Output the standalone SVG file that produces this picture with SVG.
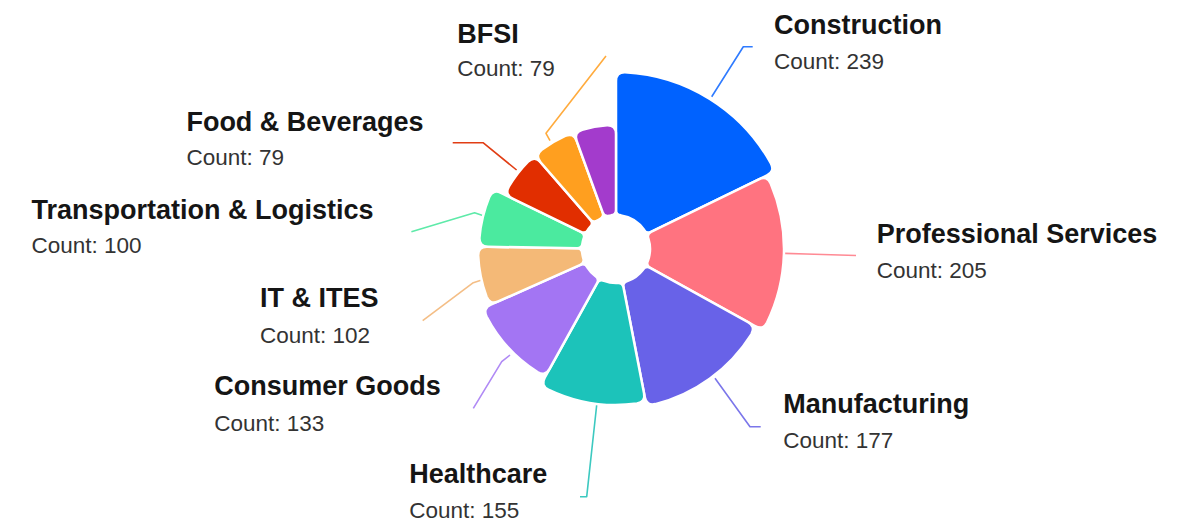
<svg xmlns="http://www.w3.org/2000/svg" width="1185" height="522" viewBox="0 0 1185 522">
<style>
.sec{stroke:#fff;stroke-width:2.5;stroke-linejoin:round}
.ln{fill:none;stroke-width:1.6;stroke-linejoin:round}
.t{font-family:"Liberation Sans",Arial,sans-serif;font-weight:bold;font-size:27px;fill:#151515}
.c{font-family:"Liberation Sans",Arial,sans-serif;font-size:22.5px;fill:#333}
</style>
<rect width="1185" height="522" fill="#fff"/>
<g id="connectors">
<polyline class="ln" stroke="#2f7bff" points="711.7,96.7 743.3,46.7 752.7,46.7"/>
<polyline class="ln" stroke="#ff8a94" points="785,253.4 806,254 856,255.5"/>
<polyline class="ln" stroke="#7b76ea" points="715,378.3 750,426.7 760.7,426.7"/>
<polyline class="ln" stroke="#3cc9c0" points="596.7,405 586.7,496.7 580,496.7"/>
<polyline class="ln" stroke="#b08af5" points="510,355 501.7,361.7 473.3,408.3"/>
<polyline class="ln" stroke="#f4be86" points="481.7,280 473.3,282.7 422.7,320.7"/>
<polyline class="ln" stroke="#5eeaa9" points="484.1,216 474.6,212.7 411.4,231.7"/>
<polyline class="ln" stroke="#e13d14" points="516.6,170 483,142.7 452.7,142.7"/>
<polyline class="ln" stroke="#ffab3d" points="550,140.7 546,133.3 606,56"/>
</g>
<g id="construction">
<path class="sec" fill="#0062FF" transform="translate(616,249) rotate(32)" d="M -20.67 -33.07 L -89.02 -142.46 Q -93.79 -150.10 -86.06 -154.68 A 177 177 0 0 1 86.06 -154.68 Q 93.79 -150.10 89.02 -142.46 L 20.67 -33.07 Q 18.02 -28.83 13.60 -31.16 A 34 34 0 0 0 -13.60 -31.16 Q -18.02 -28.83 -20.67 -33.07 Z"/>
<text class="t" x="774" y="34.3">Construction</text>
<text class="c" x="774" y="69">Count: 239</text>
</g>
<g id="professional-services">
<path class="sec" fill="#FF7380" transform="translate(616,249) rotate(91.5)" d="M -18.01 -34.59 L -73.41 -141.03 Q -77.57 -149.02 -69.48 -152.96 A 168 168 0 0 1 69.48 -152.96 Q 77.57 -149.02 73.41 -141.03 L 18.01 -34.59 Q 15.70 -30.16 11.11 -32.13 A 34 34 0 0 0 -11.11 -32.13 Q -15.70 -30.16 -18.01 -34.59 Z"/>
<text class="t" x="876.7" y="243.3">Professional Services</text>
<text class="c" x="876.7" y="277.7">Count: 205</text>
</g>
<g id="manufacturing">
<path class="sec" fill="#6862E8" transform="translate(616,249) rotate(144)" d="M -16.48 -35.35 L -63.81 -136.85 Q -67.62 -145.01 -59.36 -148.58 A 160 160 0 0 1 59.36 -148.58 Q 67.62 -145.01 63.81 -136.85 L 16.48 -35.35 Q 14.37 -30.81 9.70 -32.59 A 34 34 0 0 0 -9.70 -32.59 Q -14.37 -30.81 -16.48 -35.35 Z"/>
<text class="t" x="783.3" y="413.3">Manufacturing</text>
<text class="c" x="783.3" y="448.3">Count: 177</text>
</g>
<g id="healthcare">
<path class="sec" fill="#1CC3BA" transform="translate(616,249) rotate(189)" d="M -13.34 -36.65 L -50.27 -138.14 Q -53.35 -146.59 -44.82 -149.42 A 156 156 0 0 1 44.82 -149.42 Q 53.35 -146.59 50.27 -138.14 L 13.34 -36.65 Q 11.63 -31.95 6.82 -33.31 A 34 34 0 0 0 -6.82 -33.31 Q -11.63 -31.95 -13.34 -36.65 Z"/>
<text class="t" x="409.3" y="483.3">Healthcare</text>
<text class="c" x="409.3" y="518.3">Count: 155</text>
</g>
<g id="consumer-goods">
<path class="sec" fill="#A375F3" transform="translate(616,249) rotate(227.5)" d="M -12.37 -36.98 L -43.47 -129.92 Q -46.33 -138.45 -37.71 -141.05 A 146 146 0 0 1 37.71 -141.05 Q 46.33 -138.45 43.47 -129.92 L 12.37 -36.98 Q 10.79 -32.24 5.95 -33.48 A 34 34 0 0 0 -5.95 -33.48 Q -10.79 -32.24 -12.37 -36.98 Z"/>
<text class="t" x="214.3" y="395">Consumer Goods</text>
<text class="c" x="214.3" y="430.7">Count: 133</text>
</g>
<g id="it-ites">
<path class="sec" fill="#F4B977" transform="translate(616,249) rotate(258.5)" d="M -8.44 -38.08 L -27.92 -125.94 Q -29.86 -134.73 -21.02 -136.39 A 138 138 0 0 1 21.02 -136.39 Q 29.86 -134.73 27.92 -125.94 L 8.44 -38.08 Q 7.36 -33.19 2.41 -33.92 A 34 34 0 0 0 -2.41 -33.92 Q -7.36 -33.19 -8.44 -38.08 Z"/>
<text class="t" x="260" y="307.3">IT &amp; ITES</text>
<text class="c" x="260" y="342.7">Count: 102</text>
</g>
<g id="transportation-logistics">
<path class="sec" fill="#4BEA9F" transform="translate(616,249) rotate(283.5)" d="M -8.44 -38.08 L -27.70 -124.97 Q -29.65 -133.75 -20.81 -135.41 A 137 137 0 0 1 20.81 -135.41 Q 29.65 -133.75 27.70 -124.97 L 8.44 -38.08 Q 7.36 -33.19 2.41 -33.92 A 34 34 0 0 0 -2.41 -33.92 Q -7.36 -33.19 -8.44 -38.08 Z"/>
<text class="t" x="31.4" y="219.3">Transportation &amp; Logistics</text>
<text class="c" x="31.4" y="252.7">Count: 100</text>
</g>
<g id="food-beverages">
<path class="sec" fill="#E12E00" transform="translate(616,249) rotate(307.5)" d="M -7.78 -38.22 L -22.93 -112.69 Q -24.73 -121.51 -15.85 -122.98 A 124 124 0 0 1 15.85 -122.98 Q 24.73 -121.51 22.93 -112.69 L 7.78 -38.22 Q 6.78 -33.32 1.82 -33.95 A 34 34 0 0 0 -1.82 -33.95 Q -6.78 -33.32 -7.78 -38.22 Z"/>
<text class="t" x="186.4" y="130.7">Food &amp; Beverages</text>
<text class="c" x="186.4" y="165">Count: 79</text>
</g>
<g id="bfsi">
<path class="sec" fill="#FF9F1F" transform="translate(616,249) rotate(329.5)" d="M -7.11 -38.35 L -20.95 -113.08 Q -22.59 -121.93 -13.69 -123.24 A 124 124 0 0 1 13.69 -123.24 Q 22.59 -121.93 20.95 -113.08 L 7.11 -38.35 Q 6.19 -33.43 1.23 -33.98 A 34 34 0 0 0 -1.23 -33.98 Q -6.19 -33.43 -7.11 -38.35 Z"/>
<text class="t" x="457.3" y="42.7">BFSI</text>
<text class="c" x="457.3" y="76">Count: 79</text>
</g>
<g id="other">
<path class="sec" fill="#A33BCC" transform="translate(616,249) rotate(350)" d="M -6.77 -38.41 L -19.96 -113.25 Q -21.53 -122.12 -12.62 -123.36 A 124 124 0 0 1 12.62 -123.36 Q 21.53 -122.12 19.96 -113.25 L 6.77 -38.41 Q 5.90 -33.48 0.93 -33.99 A 34 34 0 0 0 -0.93 -33.99 Q -5.90 -33.48 -6.77 -38.41 Z"/>
</g>
</svg>
